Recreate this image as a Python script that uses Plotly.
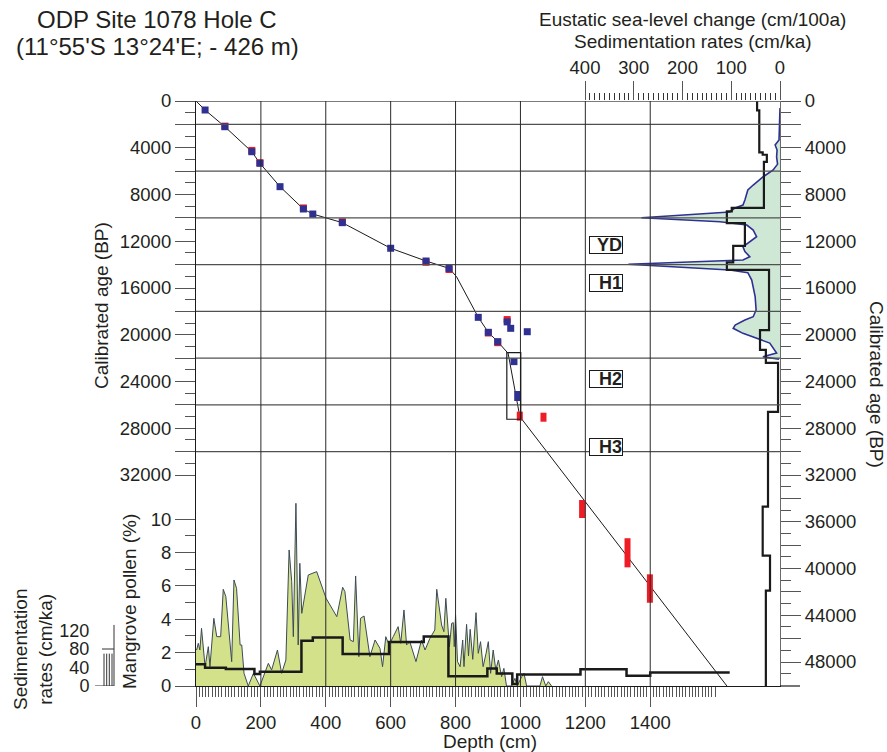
import plotly.graph_objects as go

# ---------------- data ----------------
# Mangrove pollen (%) vs depth (cm)
pollen_depth = [0, 2, 7, 12, 17, 23, 28, 38, 43, 55, 64, 76, 84, 92, 110, 117, 125, 136, 141, 148,
                161, 177, 197, 223, 233, 251, 264, 277, 287, 295, 300, 308, 315, 320, 326, 346, 372,
                401, 434, 452, 459, 475, 485, 492, 502, 507, 518, 536, 552, 567, 575, 585, 595, 608,
                623, 631, 641, 649, 659, 678, 695, 706, 721, 736, 742, 757, 764, 770, 781, 788, 793,
                796, 800, 806, 814, 822, 826, 834, 840, 845, 853, 863, 870, 877, 885, 894, 901, 908,
                916, 924, 932, 942, 949, 957, 973, 983, 990, 1004, 1011, 1019, 1060, 1068, 1078,
                1086, 1096]
pollen_pct = [2.2, 2.16, 2.56, 2.16, 3.46, 2.36, 1.16, 2.36, 1.16, 4.06, 2.96, 2.96, 5.8, 5.36, 1.46,
              6.36, 5.86, 2.46, 2.46, 0.76, 0, 0.76, 0, 1.36, 0.96, 2.16, 0.76, 1.56, 8.16, 6.26, 2.96,
              10.96, 2.46, 7.36, 4.36, 6.66, 6.86, 5.26, 4.16, 5.92, 5.66, 2.76, 2.66, 6.6, 1.76,
              4.06, 4.2, 1.76, 2.76, 2.26, 1.16, 2.96, 2.46, 2.96, 3.56, 2.56, 4.56, 2.46, 2.66,
              1.46, 2.76, 2.16, 2.86, 3.36, 5.8, 3.66, 3.26, 5.26, 2.36, 3.76, 3.8, 2.36, 4.26,
              1.46, 1.16, 2.76, 1.16, 3.7, 1.8, 3.4, 1.6, 4.4, 1.96, 2.66, 1.16, 1.96, 2.66, 0.76,
              2.16, 0.96, 1.56, 0.56, 1.06, 0, 0, 0.46, 0, 0.56, 0.76, 0, 0, 0.56, 0, 0.26, 0]

# Sedimentation rate (cm/ka) vs depth (step curve, lower panel)
sed_depth = [0, 28, 92, 180, 197, 325, 360, 452, 595, 702, 778, 898, 927, 975, 990, 1185, 1327, 1400, 1645]
sed_rate = [47, 39.6, 36.8, 26, 31, 98, 105, 69, 95, 107, 21, 38, 27, 4.3, 25, 36, 22, 29, 29]

# Age model (depth cm, calibrated age BP)
model_depth = [0, 28, 89, 172, 197, 259, 331, 360, 451, 600, 709, 780, 803, 870, 901, 930, 962, 998, 1646]
model_age = [0, 770, 2200, 4340, 5330, 7330, 9240, 9670, 10410, 12600, 13690, 14320, 15030, 18510,
             19790, 20590, 21590, 27000, 50400]

# Dated samples
blue_depth = [28, 89, 172, 197, 259, 331, 360, 451, 600, 709, 780, 870, 901, 930, 980, 959, 970, 1021]
blue_age = [770, 2200, 4340, 5330, 7330, 9240, 9670, 10410, 12600, 13690, 14320, 18510, 19790, 20590,
            22300, 18900, 19450, 19740]
red_depth = [89, 172, 197, 331, 451, 709, 780, 959, 930, 901]
red_age = [2150, 4230, 5280, 9150, 10330, 13800, 14420, 18700, 20680, 19850]

# Age ranges (bars)
red_bar_depth = [998, 1071, 1190, 1330, 1399]
red_bar_lo = [26580, 26670, 34140, 37410, 40500]
red_bar_hi = [27350, 27440, 35680, 39900, 42930]
blue_bar_depth = [990]
blue_bar_lo = [24810]
blue_bar_hi = [25670]

# Eustatic sea-level change (cm/100a) vs age
sl_age = [600, 3340, 3760, 4200, 4790, 5400, 5900, 6500, 7190, 7610, 8470, 8900, 9150, 9500, 9990,
          10330, 10610, 11040, 11610, 11890, 12470, 12890, 13320, 13600, 13970, 14460, 14690, 15320,
          16000, 16740, 17300, 17880, 18460, 18740, 19170, 19450, 19880, 20300, 20710, 21560, 21880, 22100]
sl_val = [0, 2, 10, 6, 7, 5, 14, 35, 55, 66, 72, 76, 92, 103, 284, 123, 68, 55, 48, 58, 76, 72, 62, 76,
          311, 103, 66, 58, 54, 51, 50, 49, 55, 72, 92, 96, 76, 48, 21, 7, 35, 2]

# Sedimentation rate (cm/ka) vs age (right panel)
rs_age = [0, 800, 4400, 4600, 5200, 9150, 9450, 10450, 12400, 13800, 14450, 19600, 21300, 22400,
          26600, 34700, 38900, 41900, 50400]
rs_val = [47, 42.5, 35.5, 27, 33, 99, 109, 72, 96, 109, 22.5, 41, 29, 4, 24.6, 35.5, 20.5, 29, 29]

# Events
event_labels = ["YD", "H1", "H2", "H3"]
event_age = [12320, 15570, 23780, 29600]
event_depth = [1264, 1264, 1264, 1264]

# Outline box
box_depth = [958, 1001]
box_age = [21530, 27230]

# Axis ticks
depth_ticks = [0, 200, 400, 600, 800, 1000, 1200, 1400]
grid_ages = [0, 2000, 6000, 10000, 14000, 18000, 22000, 26000, 30000]
grid_depths = [200, 400, 600, 800, 1000, 1200, 1400]
left_age_ticks = list(range(0, 32001, 2000))
right_age_ticks = list(range(0, 48001, 2000))
pollen_ticks = [0, 2, 4, 6, 8, 10]
sed_ticks = [0, 40, 80, 120]
top_ticks = [0, 100, 200, 300, 400]

# ---------------- layout geometry ----------------
W, H = 887, 752
XL, XR = 196 / W, 780 / W
YB, YT = 1 - 686 / H, 1 - 101 / H
FONT = "Liberation Sans, Arial, sans-serif"
TXT = "#231f20"
TICKC = "#555555"

fig = go.Figure()

# pollen
fig.add_trace(go.Scatter(x=pollen_depth, y=pollen_pct, xaxis="x", yaxis="y2", mode="lines",
                         fill="tozeroy", fillcolor="#d3e28a",
                         line=dict(color="#3b4a56", width=1), showlegend=False, hoverinfo="skip"))
# lower sed-rate step
fig.add_trace(go.Scatter(x=sed_depth, y=sed_rate, xaxis="x", yaxis="y3", mode="lines",
                         line=dict(color="#1a1a1a", width=2.5, shape="hv"), showlegend=False))
# sea level
fig.add_trace(go.Scatter(x=sl_val, y=sl_age, xaxis="x3", yaxis="y", mode="lines",
                         fill="tozerox", fillcolor="#cfe8d6",
                         line=dict(color="#2e3192", width=1.6), showlegend=False))
# right sed-rate step
fig.add_trace(go.Scatter(x=rs_val, y=rs_age, xaxis="x3", yaxis="y", mode="lines",
                         line=dict(color="#1a1a1a", width=2.2, shape="vh"), showlegend=False))
# age model
fig.add_trace(go.Scatter(x=model_depth, y=model_age, xaxis="x", yaxis="y", mode="lines",
                         line=dict(color="#1a1a1a", width=1), showlegend=False))
# red bars
for d, lo, hi in zip(red_bar_depth, red_bar_lo, red_bar_hi):
    fig.add_trace(go.Scatter(x=[d, d], y=[lo, hi], xaxis="x", yaxis="y", mode="lines",
                             line=dict(color="#ee1c25", width=6), showlegend=False))
for d, lo, hi in zip(blue_bar_depth, blue_bar_lo, blue_bar_hi):
    fig.add_trace(go.Scatter(x=[d, d], y=[lo, hi], xaxis="x", yaxis="y", mode="lines",
                             line=dict(color="#2e3192", width=6), showlegend=False))
# markers
fig.add_trace(go.Scatter(x=red_depth, y=red_age, xaxis="x", yaxis="y", mode="markers",
                         marker=dict(symbol="square", size=7, color="#ee1c25"), showlegend=False))
fig.add_trace(go.Scatter(x=blue_depth, y=blue_age, xaxis="x", yaxis="y", mode="markers",
                         marker=dict(symbol="square", size=7, color="#2e3192"), showlegend=False))

shapes = []
for a in grid_ages:
    shapes.append(dict(type="line", xref="x domain", yref="y", x0=0, x1=1, y0=a, y1=a,
                       line=dict(color="#505050", width=1.3), layer="above"))
for d in grid_depths:
    shapes.append(dict(type="line", xref="x", yref="y domain", x0=d, x1=d, y0=0, y1=1,
                       line=dict(color="#2a2a2a", width=1), layer="above"))
shapes.append(dict(type="rect", xref="x", yref="y", x0=box_depth[0], x1=box_depth[1],
                   y0=box_age[0], y1=box_age[1], line=dict(color="#1a1a1a", width=1.2), layer="above"))
# bottom axis extension to the right
shapes.append(dict(type="line", xref="x domain", yref="y domain", x0=1, x1=1 + 20 / 584, y0=0, y1=0,
                   line=dict(color="#1a1a1a", width=1.2)))
# small sed-rate scale comb
xs = 114 / W
shapes.append(dict(type="line", xref="paper", yref="y3", x0=xs, x1=xs, y0=0, y1=132,
                   line=dict(color="#333", width=1)))
shapes.append(dict(type="line", xref="paper", yref="y3", x0=95 / W, x1=xs, y0=0, y1=0,
                   line=dict(color="#333", width=1)))
shapes.append(dict(type="line", xref="paper", yref="y3", x0=102 / W, x1=xs, y0=80, y1=80,
                   line=dict(color="#333", width=1)))
for px in [104, 106.7, 109.3, 112]:
    shapes.append(dict(type="line", xref="paper", yref="y3", x0=px / W, x1=px / W, y0=0, y1=70,
                       line=dict(color="#333", width=1)))

annotations = []
for lab, a, d in zip(event_labels, event_age, event_depth):
    annotations.append(dict(x=d, y=a, xref="x", yref="y", text="<b>%s</b>" % lab, showarrow=False,
                            font=dict(family="Liberation Sans Narrow, Liberation Sans, Arial", size=18, color=TXT),
                            bordercolor="#1a1a1a", borderwidth=1, bgcolor="white", borderpad=0,
                            width=32, height=16, align="right"))

def txt(text, px, py, size=19, angle=0):
    return dict(x=px / W, y=1 - py / H, xref="paper", yref="paper", text=text, showarrow=False,
                textangle=angle, font=dict(family=FONT, size=size, color=TXT),
                xanchor="center", yanchor="middle")

annotations += [
    txt("ODP Site 1078 Hole C", 157, 20, 24),
    txt("(11°55'S 13°24'E; - 426 m)", 157, 46, 24),
    txt("Eustatic sea-level change (cm/100a)", 692, 20, 19),
    txt("Sedimentation rates (cm/ka)", 693, 42, 19),
    txt("Calibrated age (BP)", 101, 306, 19, -90),
    txt("Calibrated age (BP)", 876, 384, 19, 90),
    txt("Mangrove pollen (%)", 129, 602, 19, -90),
    txt("Sedimentation<br>rates (cm/ka)", 33, 650, 19, -90),
    txt("Depth (cm)", 490, 741, 19),
]

tickfont = dict(family=FONT, size=18.5, color=TXT)
common = dict(showgrid=False, zeroline=False, tickfont=tickfont, tickcolor=TICKC, tickwidth=1.2,
              automargin=False)

fig.update_layout(
    width=W, height=H, margin=dict(l=0, r=0, t=0, b=0, autoexpand=False),
    paper_bgcolor="white", plot_bgcolor="white",
    font=dict(family=FONT, color=TXT),
    showlegend=False,
    xaxis=dict(domain=[XL, XR], range=[0, 1800], anchor="y", tickmode="array", tickvals=depth_ticks,
               ticks="outside", ticklen=20, showline=True, linecolor="#1a1a1a", linewidth=1.2, **common),
    xaxis2=dict(domain=[XL, XR], range=[0, 1800], anchor="y", overlaying="x", side="bottom",
                tickmode="array", tickvals=list(range(0, 1601, 10)), ticks="outside", ticklen=10,
                showticklabels=False, showline=False, showgrid=False, zeroline=False,
                tickcolor="#555", tickwidth=1, automargin=False),
    xaxis3=dict(domain=[XL, XR], range=[(780 - 196) / 0.4875, 0], anchor="y", overlaying="x", side="top",
                tickmode="array", tickvals=top_ticks, ticks="outside", ticklen=19, showline=False,
                minor=dict(tickmode="array", tickvals=list(range(0, 401, 10)), ticklen=7,
                           ticks="outside", tickcolor="#333"),
                **common),
    yaxis=dict(domain=[YB, YT], range=[(686 - 101) / 46.75 * 4000, 0], anchor="x", tickmode="array",
               tickvals=left_age_ticks, ticktext=[str(v) if v % 4000 == 0 else "" for v in left_age_ticks],
               ticks="outside", ticklen=20, showline=True, linecolor="#1a1a1a", linewidth=1.2,
               minor=dict(tickmode="array", tickvals=list(range(1000, 32000, 2000)), ticklen=10,
                          ticks="outside", tickcolor=TICKC),
               **common),
    yaxis2=dict(domain=[YB, YT], range=[0, 585 / 16.67], anchor="x", overlaying="y", side="left",
                tickmode="array", tickvals=pollen_ticks, ticks="outside", ticklen=20, showline=False,
                minor=dict(tickmode="array", tickvals=[1, 3, 5, 7, 9], ticklen=10, ticks="outside",
                           tickcolor=TICKC),
                **common),
    yaxis3=dict(domain=[YB, YT], range=[0, 585 / 0.4625], anchor="free", position=114 / W,
                overlaying="y", side="left", tickmode="array", tickvals=sed_ticks, ticks="outside",
                ticklen=21, showline=False, showgrid=False, zeroline=False,
                tickfont=dict(family=FONT, size=18, color=TXT),
                tickcolor="rgba(0,0,0,0)", automargin=False),
    yaxis4=dict(domain=[YB, YT], range=[(686 - 101) / 46.75 * 4000, 0], anchor="x", overlaying="y",
                side="right", tickmode="array", tickvals=right_age_ticks,
                ticktext=[str(v) if v % 4000 == 0 else "" for v in right_age_ticks],
                ticks="outside", ticklen=20, showline=True, linecolor="#6a6a6a", linewidth=1.2,
                minor=dict(tickmode="array", tickvals=list(range(1000, 50000, 2000)), ticklen=10,
                           ticks="outside", tickcolor=TICKC),
                **common),
    shapes=shapes,
    annotations=annotations,
)
# dummy trace so yaxis4 and xaxis2 are rendered
fig.add_trace(go.Scatter(x=[None], y=[None], xaxis="x2", yaxis="y4", showlegend=False))

fig.write_html("out.html", config={"displayModeBar": False},
               post_script="document.body.style.margin='0';document.body.style.overflow='hidden';")
